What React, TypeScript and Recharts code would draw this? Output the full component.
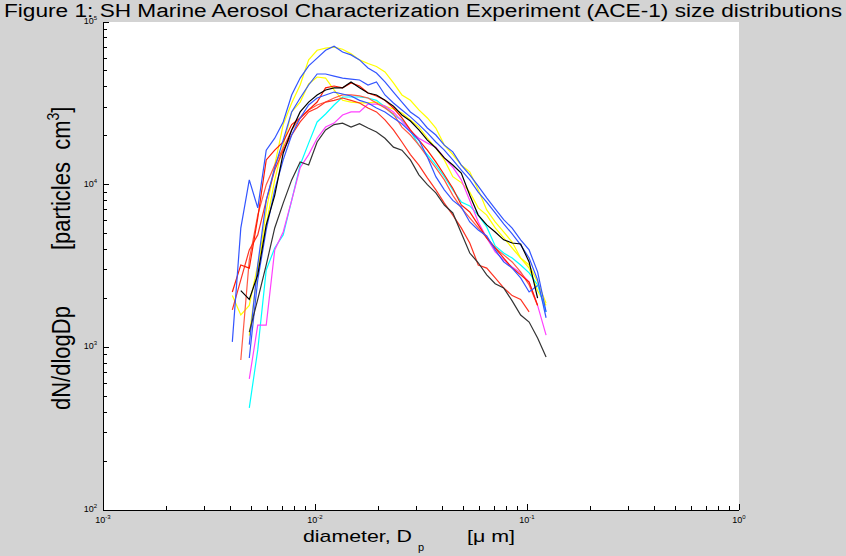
import React from 'react';
import { LineChart, Line, XAxis, YAxis } from 'recharts';

// particle diameter bins [um]
const diameters = [
  0.004074, 0.004467, 0.004898, 0.00537, 0.005888, 0.006457, 0.007079, 0.007762,
  0.008511, 0.009333, 0.010233, 0.01122, 0.012303, 0.01349, 0.014791, 0.016218,
  0.017783, 0.019498, 0.02138, 0.023442, 0.025704, 0.028184, 0.030903, 0.033884,
  0.037154, 0.040738, 0.044668, 0.048978, 0.053703, 0.058884, 0.064565, 0.070795,
  0.077625, 0.085114, 0.093325, 0.102329, 0.112202, 0.123027,
];

// dN/dlogDp [particles cm^-3] per sample
const blue1 = [1080, 5400, 10700, 7200, 16300, 19300, 24300, 35600, 45200, 53700, 60000, 67000, 71000, 65400, 62800, 58500, 52200, 48600, 42800, 37100, 32200, 28000, 25700, 22300, 20200, 17500, 15900, 13200, 11500, 9800, 8300, 7100, 6100, 5400, 4580, 3970, 2910, 1650];
const yellow1 = [null, null, 1180, 2970, 6900, 13200, 23400, 31800, 41000, 58500, 67000, 69000, 70000, 68000, 63700, 58500, 55600, 53300, 49300, 42200, 35600, 33000, 28800, 25700, 22300, 17500, 15300, 13200, 12000, 9300, 7000, 5900, 5120, 4440, 3540, 3210, 2520, 1870];
const blue2 = [null, null, 1040, 3210, 8000, 12700, 18800, 28000, 34100, 41000, 47900, 47900, 46500, 45200, 44600, 44000, 41000, 42800, 35600, 31800, 28800, 26100, 23400, 20800, 18300, 16300, 14200, 12300, 10700, 9000, 7800, 6700, 5750, 4980, 4260, 3540, 2600, 1520];
const blue3 = [null, null, 860, 2600, 5270, 9300, 14200, 20200, 25700, 30900, 34100, 35600, 37100, 36100, 35100, 33000, 31800, 29600, 28000, 25700, 23700, 21100, 18800, 14800, 11200, 9300, 8000, 7290, 5900, 5270, 4840, 3970, 3350, 3070, 2670, 2190, 2400, null];
const yellow2 = [2080, 1580, 1810, 3210, 5660, 10700, 17500, 28000, 32200, 41600, 45900, 45200, 38200, 33000, 32200, 31800, 31800, 32200, 30400, 29200, 27600, 25000, 22600, 19300, 16800, 14200, 11200, 10300, 9000, 7200, 6500, 5420, 4710, 4080, 3540, 3070, 2230, 1810];
const red1 = [2190, 3210, 3070, 6250, 14200, 16300, 18300, 23400, 25700, 28800, 32200, 39400, 40400, 39400, 42200, 40400, 36600, 35100, 33000, 29600, 25700, 21700, 18800, 16300, 13800, 11500, 9500, 7500, 6800, 5660, 4710, 4080, 3540, 3070, 2790, 2520, 1810, null];
const red2 = [null, 835, 3450, 6500, 10000, 13200, 16800, 21700, 25700, 28800, 30900, 32200, 34100, 35600, 35600, 35100, 34100, 31800, 29600, 27200, 22600, 20200, 17500, 14800, 12700, 10700, 8600, 7200, 6250, 5420, 4710, 4080, 3700, 3350, 2910, 2420, 1810, null];
const red3 = [1700, 2600, 3970, 4910, 8000, 12300, 16300, 20200, 24300, 28000, 29600, 32200, 33000, 34100, 33000, 31800, 29600, 28000, 25000, 21700, 18300, 15300, 13200, 11000, 9300, 7700, 6500, 5420, 4380, 3210, 3070, 2670, 2320, 2080, 1970, 1650, null, null];
const black1 = [null, 2230, 1970, 2790, 5660, 8600, 15600, 21700, 28000, 32200, 35600, 38200, 39400, 39400, 42800, 39400, 36600, 35600, 33000, 30400, 26800, 24600, 21700, 18800, 16800, 14600, 13200, 11800, 8600, 6500, 5660, 5120, 4580, 4380, 4320, 3350, 2010, null];
const cyan1 = [null, null, 424, 964, 2990, 4080, 4910, 8000, 13200, 18000, 24300, 27200, 30900, 34600, 34600, 34600, 34100, 33000, 30000, 26800, 25000, 21400, 17500, 15300, 13200, 11200, 9300, 7830, 7400, 6500, 5500, 4200, 3800, 3540, 3210, 2870, 2420, 1650];
const magenta1 = [null, null, 640, 1370, 1370, 3970, 5120, 8000, 12700, 15300, 19300, 22600, 23900, 26800, 28000, 28000, 31300, 31300, 30400, 28000, 24600, 21400, 19300, 18000, 17000, 14600, 12800, 10700, 8000, 5900, 4710, 3860, 3450, 3120, 2870, 2520, 1810, 1190];
const black2 = [null, null, 1240, 1970, 3210, 5420, 7700, 10700, 13800, 13200, 18300, 21700, 23400, 23900, 22600, 23700, 22300, 21100, 19300, 17000, 16300, 14200, 11500, 10000, 8900, 7500, 6700, 5050, 3800, 3310, 2790, 2460, 2320, 1930, 1580, 1430, 1140, 873];

const xTicks = [
  0.001, 0.002, 0.003, 0.004, 0.005, 0.006, 0.007, 0.008, 0.009,
  0.01, 0.02, 0.03, 0.04, 0.05, 0.06, 0.07, 0.08, 0.09,
  0.1, 0.2, 0.3, 0.4, 0.5, 0.6, 0.7, 0.8, 0.9, 1,
];
const yTicks = [
  100, 200, 300, 400, 500, 600, 700, 800, 900,
  1000, 2000, 3000, 4000, 5000, 6000, 7000, 8000, 9000,
  10000, 20000, 30000, 40000, 50000, 60000, 70000, 80000, 90000, 100000,
];

const seriesList = [
  { key: 'yellow2', color: '#ffff00', values: yellow2 },
  { key: 'yellow1', color: '#ffff00', values: yellow1 },
  { key: 'cyan1', color: '#00ffff', values: cyan1 },
  { key: 'magenta1', color: '#ff40ff', values: magenta1 },
  { key: 'red2', color: '#ff5a45', values: red2 },
  { key: 'red3', color: '#ff3322', values: red3 },
  { key: 'red1', color: '#ff1a00', values: red1 },
  { key: 'blue3', color: '#3355ff', values: blue3 },
  { key: 'blue2', color: '#3355ff', values: blue2 },
  { key: 'blue1', color: '#3355ff', values: blue1 },
  { key: 'black2', color: '#333333', values: black2 },
  { key: 'black1', color: '#000000', values: black1 },
];

const data = diameters.map((d, i) => {
  const row: Record<string, number | null> = { d };
  seriesList.forEach((s) => {
    row[s.key] = s.values[i];
  });
  return row;
});

const FONT = '"Liberation Sans", Arial, Helvetica, sans-serif';

const isMajor = (v: number) => {
  const lg = Math.log10(v);
  return Math.abs(lg - Math.round(lg)) < 1e-6;
};

const Pow = ({ x, y, e, anchor }: { x: number; y: number; e: number; anchor: 'middle' | 'end' }) => (
  <text x={x} y={y} textAnchor={anchor} fontSize={9} fill="#000" fontFamily={FONT}>
    10<tspan dy={-4} fontSize={6}>{e}</tspan>
  </text>
);

const TickMark = ({ x1, y1, x2, y2 }: { x1: number; y1: number; x2: number; y2: number }) => (
  <path d={`M${x1},${y1}L${x2},${y2}`} stroke="#000000" strokeWidth={1} fill="none" shapeRendering="crispEdges" />
);

const XTickBottom = (props: any) => {
  const x = Number(props.x);
  const y = Number(props.y);
  const v = Number(props.payload.value);
  const major = isMajor(v);
  return (
    <g>
      <TickMark x1={x} y1={y} x2={x} y2={y - (major ? 6 : 4)} />
      {major && <Pow x={x} y={y + 13} e={Math.round(Math.log10(v))} anchor="middle" />}
    </g>
  );
};

const XTickTop = (props: any) => {
  const x = Number(props.x);
  const y = Number(props.y);
  const major = isMajor(Number(props.payload.value));
  return (
    <g>
      <TickMark x1={x} y1={y} x2={x} y2={y + (major ? 6 : 4)} />
    </g>
  );
};

const YTickLeft = (props: any) => {
  const x = Number(props.x);
  const y = Number(props.y);
  const v = Number(props.payload.value);
  const major = isMajor(v);
  return (
    <g>
      <TickMark x1={x} y1={y} x2={x + (major ? 6 : 4)} y2={y} />
      {major && <Pow x={x - 6} y={y + 2} e={Math.round(Math.log10(v))} anchor="end" />}
    </g>
  );
};

const YTickRight = (props: any) => {
  const x = Number(props.x);
  const y = Number(props.y);
  const major = isMajor(Number(props.payload.value));
  return (
    <g>
      <TickMark x1={x} y1={y} x2={x - (major ? 6 : 4)} y2={y} />
    </g>
  );
};

const axisLineStyle = { stroke: '#000', strokeWidth: 1, shapeRendering: 'crispEdges' as const };

export default function App() {
  return (
    <div style={{ position: 'absolute', left: 0, top: 0, width: 846, height: 556, background: '#d3d3d3', overflow: 'hidden' }}>
      <div style={{ position: 'absolute', left: 103, top: 22, width: 636, height: 488, background: '#ffffff' }} />
      <div style={{ position: 'absolute', left: 0, top: 0 }}>
        <LineChart width={846} height={556} data={data} margin={{ top: 22, right: 107, bottom: 0, left: 0 }}>
          <XAxis
            dataKey="d"
            type="number"
            scale="log"
            domain={[0.001, 1]}
            ticks={xTicks}
            interval={0}
            allowDataOverflow
            height={46}
            tickSize={0}
            tickMargin={0}
            tickLine={false}
            axisLine={axisLineStyle}
            tick={XTickBottom}
          />
          <XAxis
            xAxisId="top"
            orientation="top"
            dataKey="d"
            type="number"
            scale="log"
            domain={[0.001, 1]}
            ticks={xTicks}
            interval={0}
            allowDataOverflow
            height={0}
            tickSize={0}
            tickMargin={0}
            tickLine={false}
            axisLine={axisLineStyle}
            tick={XTickTop}
          />
          <YAxis
            type="number"
            scale="log"
            domain={[100, 100000]}
            ticks={yTicks}
            interval={0}
            allowDataOverflow
            width={103}
            tickSize={0}
            tickMargin={0}
            tickLine={false}
            axisLine={axisLineStyle}
            tick={YTickLeft}
          />
          <YAxis
            yAxisId="right"
            orientation="right"
            type="number"
            scale="log"
            domain={[100, 100000]}
            ticks={yTicks}
            interval={0}
            allowDataOverflow
            width={0}
            tickSize={0}
            tickMargin={0}
            tickLine={false}
            axisLine={axisLineStyle}
            tick={YTickRight}
          />
          {seriesList.map((s) => (
            <Line
              key={s.key}
              dataKey={s.key}
              stroke={s.color}
              strokeWidth={1.2}
              dot={false}
              activeDot={false}
              type="linear"
              isAnimationActive={false}
              connectNulls={false}
            />
          ))}
        </LineChart>
      </div>
      <svg width={846} height={556} style={{ position: 'absolute', left: 0, top: 0, pointerEvents: 'none' }}>
        <text x={4} y={17} fontSize={18} fill="#000" fontFamily={FONT} textLength={838} lengthAdjust="spacingAndGlyphs">
          Figure 1: SH Marine Aerosol Characterization Experiment (ACE-1) size distributions
        </text>
        <text x={303} y={542} fontSize={17} fill="#000" fontFamily={FONT} textLength={109} lengthAdjust="spacingAndGlyphs">
          diameter, D
        </text>
        <text x={418} y={551} fontSize={11} fill="#000" fontFamily={FONT}>
          p
        </text>
        <text x={467} y={542} fontSize={17} fill="#000" fontFamily={FONT} textLength={48} lengthAdjust="spacingAndGlyphs">
          [μ m]
        </text>
        <g transform="translate(70,410) scale(1.2,1) rotate(-90)">
          <text x={0} y={0} fontSize={22} fill="#000" fontFamily={FONT}>
            dN/dlogDp
          </text>
        </g>
        <g transform="translate(70,250) scale(1.2,1) rotate(-90)">
          <text x={0} y={0} fontSize={22} fill="#000" fontFamily={FONT} style={{ whiteSpace: 'pre' }}>
            [particles  cm<tspan dy={-9} fontSize={14}>3</tspan><tspan dy={9}>]</tspan>
          </text>
        </g>
      </svg>
    </div>
  );
}
